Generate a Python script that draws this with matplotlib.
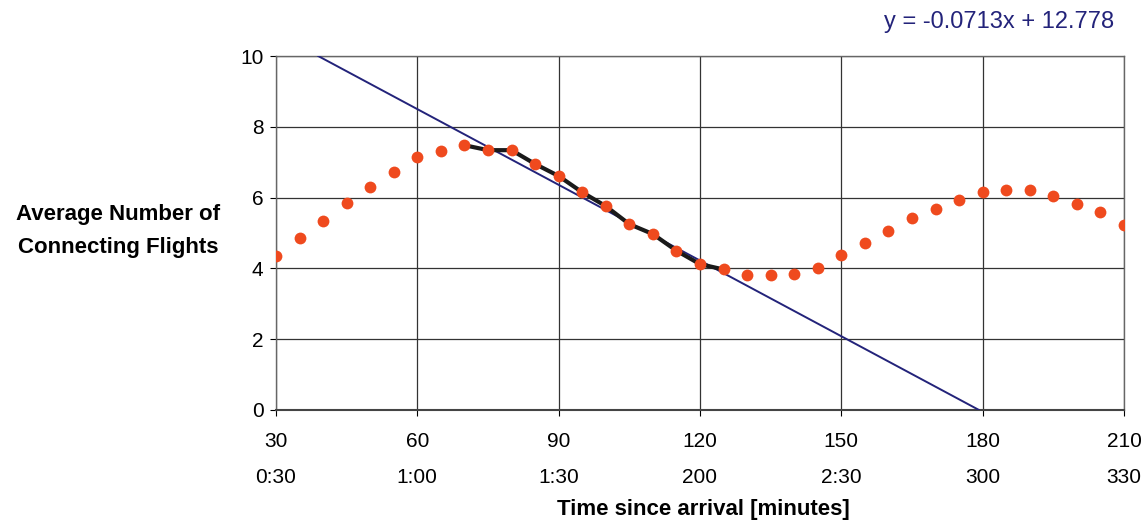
import numpy as np
import matplotlib.pyplot as plt

plt.rcParams['font.family'] = ['Liberation Sans', 'DejaVu Sans']

# time since arrival (minutes) and average number of connecting flights
minutes = list(range(30, 211, 5))
flights = [4.36, 4.87, 5.33, 5.85, 6.31, 6.71, 7.16, 7.33, 7.48, 7.34,
           7.34, 6.95, 6.61, 6.15, 5.76, 5.25, 4.97, 4.50, 4.12, 3.97,
           3.80, 3.80, 3.85, 4.02, 4.37, 4.72, 5.07, 5.41, 5.69, 5.93,
           6.16, 6.21, 6.21, 6.04, 5.82, 5.59, 5.24]

# segment used for the linear fit
fit_start, fit_end = 70, 125
slope, intercept = -0.0713, 12.778

x_ticks = [30, 60, 90, 120, 150, 180, 210]
x_labels = ['30\n0:30', '60\n1:00', '90\n1:30', '120\n200', '150\n2:30', '180\n300', '210\n330']
y_ticks = [0, 2, 4, 6, 8, 10]

fig = plt.figure(figsize=(11.46, 5.24), dpi=100)
ax = fig.add_axes([0.2408, 0.2176, 0.74, 0.6755])

ax.set_xlim(30, 210)
ax.set_ylim(0, 10)
ax.set_xticks(x_ticks)
ax.set_xticklabels(x_labels, fontsize=15, linespacing=2.1)
ax.set_yticks(y_ticks)
ax.tick_params(axis='y', labelsize=15, length=4, pad=5)
ax.tick_params(axis='x', length=4, pad=12)
ax.grid(True, color='#333333', linewidth=0.9)
ax.set_axisbelow(True)
for s in ax.spines.values():
    s.set_color('#666666')
    s.set_linewidth(1.0)
    s.set_linestyle((0, (1, 1)))
ax.spines['bottom'].set_linestyle('-')
ax.spines['bottom'].set_color('#444444')
ax.spines['bottom'].set_linewidth(1.5)

# regression line, clipped to the plot area
xs = np.array([(10 - intercept) / slope, (0 - intercept) / slope])
ax.plot(xs, slope * xs + intercept, color='#23237a', linewidth=1.4, zorder=3)

# highlighted segment
m = np.array(minutes)
f = np.array(flights)
sel = (m >= fit_start) & (m <= fit_end)
ax.plot(m[sel], f[sel], color='#1a1a1a', linewidth=3, zorder=4)

ax.plot(minutes, flights, 'o', color='#ef4a1e', markersize=8.5,
        markeredgewidth=0, zorder=5)

fig.text(0.972, 0.958, 'y = -0.0713x + 12.778', color='#23237a',
         fontsize=17, ha='right', va='center')
fig.text(0.103, 0.559, 'Average Number of\nConnecting Flights',
         fontsize=16, fontweight='bold', ha='center', va='center',
         linespacing=1.8)
fig.text(0.614, 0.027, 'Time since arrival [minutes]', fontsize=16,
         fontweight='bold', ha='center', va='center')

fig.savefig('out.png', dpi=100)
